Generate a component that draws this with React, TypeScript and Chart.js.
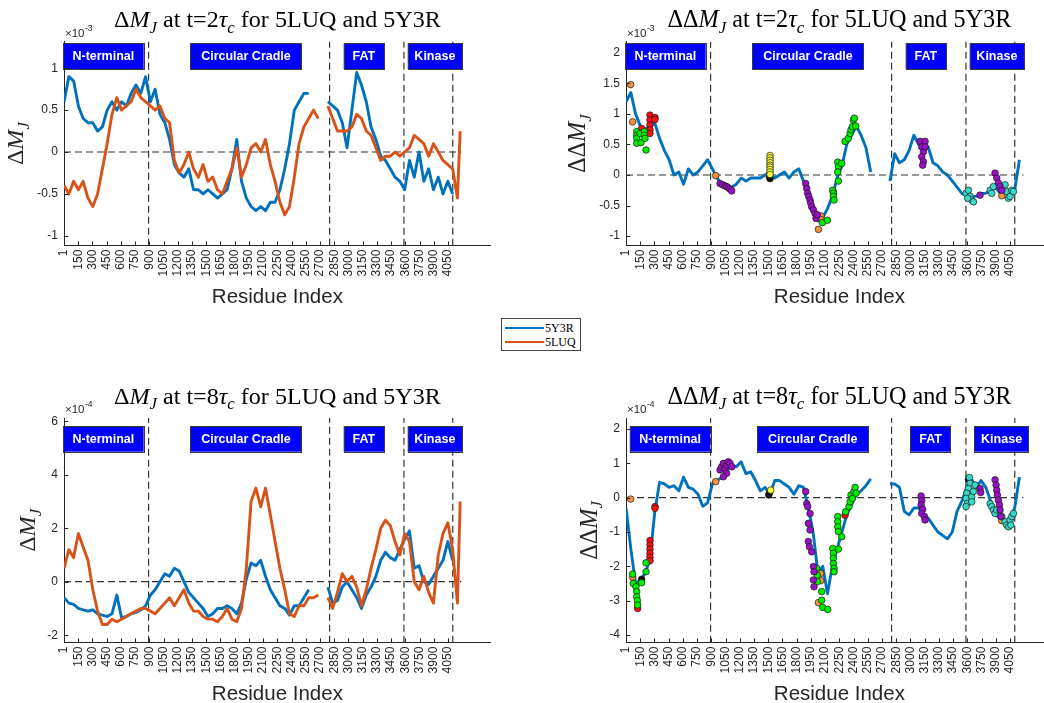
import React, { useEffect, useRef } from "react";
import { Chart, registerables } from "chart.js";

Chart.register(...registerables);

// ---------------- data ----------------
const residueIndex = [1, 51, 101, 152, 202, 253, 304, 354, 405, 455, 506, 557, 607, 658, 708, 759, 810, 860, 911, 961, 1012, 1063, 1113, 1164, 1214, 1265, 1316, 1366, 1417, 1467, 1518, 1569, 1619, 1670, 1720, 1771, 1822, 1872, 1923, 1973, 2024, 2075, 2125, 2176, 2226, 2277, 2328, 2378, 2429, 2479, 2530, 2581, 2631, 2682, 2732, 2783, 2834, 2884, 2935, 2985, 3036, 3087, 3137, 3188, 3238, 3289, 3340, 3390, 3441, 3491, 3542, 3593, 3643, 3694, 3744, 3795, 3846, 3896, 3947, 3997, 4048, 4099, 4149, 4178];

// ΔM_J at t=2τc (×1e-3)
const dMJ2_5Y3R = [0.6, 0.9, 0.85, 0.55, 0.4, 0.35, 0.35, 0.25, 0.3, 0.5,
  0.6, 0.5, 0.6, 0.55, 0.7, 0.8, 0.7, 0.9, 0.6, 0.75,
  0.45, 0.35, 0.15, -0.15, -0.25, -0.3, -0.2, -0.45, -0.45, -0.5,
  -0.45, -0.5, -0.55, -0.5, -0.45, -0.2, 0.15, -0.35, -0.55, -0.65,
  -0.7, -0.65, -0.7, -0.6, -0.6, -0.45, -0.2, 0.1, 0.5, 0.6,
  0.7, 0.7, null, null, null, 0.6, 0.55, 0.5, 0.35, 0.05,
  0.5, 0.95, 0.8, 0.6, 0.3, 0.15, -0.05, -0.1, -0.2, -0.3,
  -0.35, -0.45, -0.1, -0.3, 0.0, -0.35, -0.2, -0.45, -0.3, -0.5,
  -0.35, -0.5, null, null];
const dMJ2_5LUQ = [-0.4, -0.5, -0.35, -0.45, -0.35, -0.55, -0.65, -0.5, -0.2, 0.1,
  0.45, 0.65, 0.5, 0.55, 0.6, 0.75, 0.65, 0.6, 0.55, 0.5,
  0.55, 0.4, 0.35, -0.1, -0.25, -0.15, 0.0, -0.2, -0.3, -0.15,
  -0.35, -0.3, -0.45, -0.5, -0.35, -0.2, 0.05, -0.3, -0.15, 0.05,
  0.1, 0.0, 0.15, -0.15, -0.35, -0.6, -0.75, -0.65, -0.3, 0.1,
  0.3, 0.4, 0.5, 0.4, null, 0.55, 0.4, 0.25, 0.25, 0.25,
  0.3, 0.45, 0.4, 0.25, 0.2, 0.05, -0.1, -0.05, -0.05, 0.0,
  -0.05, 0.0, 0.05, 0.2, 0.15, 0.1, -0.05, 0.1, 0.0, -0.1,
  -0.15, -0.2, -0.55, 0.25];
// ΔΔM_J at t=2τc (×1e-3)
const ddMJ2 = [1.2, 1.35, 1.0, 0.8, 0.75, 0.8, 0.85, 0.6, 0.4, 0.25,
  0.0, 0.05, -0.15, 0.1, 0.0, 0.05, 0.15, 0.25, 0.1, -0.05,
  -0.15, -0.2, -0.2, -0.15, -0.05, -0.1, -0.05, -0.05, -0.05, 0.0,
  0.05, -0.05, 0.0, 0.05, -0.05, 0.05, 0.1, -0.1, -0.3, -0.55,
  -0.75, -0.7, -0.55, -0.35, -0.05, 0.15, 0.5, 0.65, 0.8, 0.65,
  0.45, 0.05, null, null, null, -0.1, 0.35, 0.2, 0.25, 0.4,
  0.65, 0.5, 0.55, 0.45, 0.2, 0.15, 0.05, 0.0, -0.1, -0.2,
  -0.3, -0.35, -0.35, -0.35, -0.3, -0.3, -0.25, -0.2, -0.3, -0.3,
  -0.25, -0.25, 0.25, null];
// ΔM_J at t=8τc (×1e-4)
const dMJ8_5Y3R = [-0.6, -0.8, -0.85, -1.0, -1.05, -1.1, -1.05, -1.2, -1.25, -1.3,
  -1.2, -0.5, -1.35, -1.3, -1.2, -1.15, -1.05, -0.9, -0.5, -0.3,
  0.0, 0.3, 0.2, 0.5, 0.4, 0.0, -0.4, -0.6, -0.8, -1.0,
  -1.3, -1.2, -1.0, -1.0, -0.9, -1.0, -1.2, -0.8, 0.1, 0.7,
  0.6, 0.8, 0.2, -0.3, -0.6, -0.9, -1.0, -1.25, -0.9, -0.9,
  -0.6, -0.3, null, null, null, -0.2, -0.8, -0.7, -0.2, 0.0,
  -0.3, -0.6, -1.0, -0.5, -0.2, 0.2, 0.8, 1.1, 0.9, 0.8,
  1.2, 1.6, 1.9, 0.5, 0.6, 0.0, -0.1, 0.2, 0.5, 0.8,
  1.5, 0.8, null, null];
const dMJ8_5LUQ = [0.5, 1.2, 0.9, 1.8, 1.3, 0.8, -0.3, -1.1, -1.6, -1.6,
  -1.4, -1.5, -1.4, -1.3, -1.2, -1.1, -1.0, -1.0, -1.1, -1.2,
  -1.0, -0.8, -0.6, -0.9, -0.6, -0.3, -0.8, -1.1, -1.1, -1.3,
  -1.4, -1.4, -1.5, -1.3, -1.0, -1.4, -1.5, -1.0, 0.5, 3.0,
  3.5, 2.8, 3.5, 2.5, 1.5, 0.5, -0.3, -1.2, -1.3, -0.9,
  -0.9, -0.6, -0.6, -0.5, null, -0.6, -1.0, -0.4, 0.3, 0.0,
  0.2, -0.2, -0.9, -0.3, 0.5, 1.2, 2.0, 2.3, 2.1, 1.5,
  1.0, 1.8, 1.5, 0.0, -0.3, 0.2, -0.4, -0.8, 1.0, 1.8,
  2.2, 1.2, -0.8, 3.0];
// ΔΔM_J at t=8τc (×1e-4)
const ddMJ8 = [-0.3, -1.5, -2.5, -2.4, -2.2, -1.8, -0.4, 0.45, 0.4, 0.3,
  0.35, 0.2, 0.6, 0.3, 0.25, 0.1, -0.25, -0.15, 0.4, 0.5,
  0.6, 0.8, 0.95, 0.9, 1.05, 0.7, 0.75, 0.5, 0.2, 0.3,
  0.1, 0.5, 0.5, 0.4, 0.3, 0.1, 0.35, 0.3, -0.3, -1.0,
  -2.2, -2.0, -2.8, -2.0, -1.5, -1.0, -0.5, -0.2, 0.1, 0.2,
  0.35, 0.55, null, null, null, 0.4, 0.4, 0.3, -0.4, -0.5,
  -0.3, -0.3, -0.5, -0.6, -0.8, -1.0, -1.1, -1.2, -1.0, -0.4,
  -0.1, 0.3, 0.55, 0.3, 0.5, 0.3, -0.1, -0.5, -0.6, -0.7,
  -0.6, -0.3, 0.6, null];

// highlighted residues [residue, value]
const t2Orange = [[49, 1.48], [70, 0.87], [946, -0.01], [2029, -0.89], [2057, -0.67], [2057, -0.73], [3963, -0.34]];
const t2Green = [[113, 0.71], [113, 0.65], [113, 0.6], [113, 0.52], [148, 0.68], [158, 0.53], [193, 0.71], [193, 0.65], [200, 0.6], [211, 0.41], [2071, -0.78], [2124, -0.74], [2180, -0.25], [2187, -0.3], [2187, -0.35], [2194, -0.41], [2233, 0.21], [2240, 0.14], [2233, 0.05], [2240, -0.1], [2275, 0.19], [2310, 0.55], [2345, 0.6], [2363, 0.68], [2373, 0.74], [2387, 0.79], [2398, 0.9], [2408, 0.93], [2423, 0.8]];
const t2Red = [[165, 0.76], [253, 0.98], [253, 0.9], [253, 0.82], [253, 0.74], [253, 0.68], [306, 0.94], [306, 0.91]];
const t2Purple = [[992, -0.14], [1020, -0.16], [1044, -0.18], [1062, -0.19], [1079, -0.21], [1097, -0.23], [1115, -0.26], [1895, -0.14], [1906, -0.22], [1916, -0.3], [1927, -0.35], [1941, -0.41], [1948, -0.46], [1958, -0.52], [1976, -0.57], [1994, -0.63], [2004, -0.71], [2018, -0.65], [3101, 0.55], [3119, 0.46], [3136, 0.38], [3119, 0.3], [3136, 0.22], [3129, 0.16], [3154, 0.55], [3154, 0.46], [3734, -0.33], [3892, 0.03], [3910, -0.05], [3927, -0.13], [3945, -0.19], [3963, -0.25]];
const t2Yellow = [[1519, 0.32], [1519, 0.28], [1519, 0.24], [1519, 0.2], [1519, 0.16], [1519, 0.13], [1519, 0.09], [1519, 0.05], [1519, 0.01]];
const t2Black = [[1512, -0.03], [1519, -0.06], [2187, -0.28]];
const t2Cyan = [[3586, -0.3], [3611, -0.25], [3629, -0.35], [3646, -0.41], [3664, -0.44], [3604, -0.38], [3840, -0.25], [3857, -0.3], [3875, -0.19], [3998, -0.16], [4015, -0.27], [4033, -0.38], [4051, -0.35], [4068, -0.25], [4086, -0.27]];

const t8Orange = [[49, -0.04], [70, -2.32], [946, 0.47], [2053, -2.21], [2053, -2.42], [2029, -3.06], [3963, -0.67]];
const t8Green = [[70, -2.23], [77, -2.5], [105, -2.6], [113, -2.74], [113, -2.89], [120, -3.0], [123, -3.13], [165, -2.48], [211, -1.9], [211, -2.16], [2011, -2.06], [2018, -2.26], [2018, -2.45], [2064, -2.74], [2064, -2.99], [2074, -3.2], [2127, -3.26], [2180, -1.48], [2187, -1.62], [2187, -1.77], [2187, -1.92], [2194, -2.06], [2194, -2.16], [2240, -1.5], [2233, -0.55], [2233, -0.7], [2233, -0.85], [2240, -0.99], [2275, -1.14], [2317, -0.41], [2352, -0.26], [2363, -0.12], [2373, 0.08], [2387, -0.02], [2405, 0.18], [2416, 0.3], [2426, 0.13]];
const t8Red = [[123, -3.23], [253, -1.25], [253, -1.38], [253, -1.5], [253, -1.62], [253, -1.74], [253, -1.84], [306, -0.26], [306, -0.31], [2310, -0.51]];
const t8Black = [[165, -2.38], [1505, 0.08], [1512, 0.13], [3611, 0.53]];
const t8Yellow = [[1526, 0.22]];
const t8Purple = [[992, 0.81], [1009, 0.9], [1027, 1.0], [1044, 0.86], [1062, 0.95], [1079, 1.05], [1097, 1.0], [1062, 0.71], [1027, 0.61], [1115, 0.9], [1895, 0.18], [1906, -0.17], [1916, -0.26], [1941, -0.46], [1923, -0.75], [1941, -0.94], [1923, -1.28], [1934, -1.43], [1958, -1.58], [1976, -2.01], [1983, -2.16], [1976, -2.4], [1983, -2.6], [3112, 0.05], [3119, -0.09], [3112, -0.21], [3129, -0.34], [3119, -0.46], [3147, -0.55], [3154, -0.65], [3734, 0.27], [3741, 0.15], [3892, 0.52], [3903, 0.37], [3910, 0.22], [3917, 0.08], [3927, -0.07], [3938, -0.21], [3945, -0.36], [3952, -0.55]];
const t8Cyan = [[3622, 0.59], [3629, 0.42], [3611, 0.27], [3593, 0.13], [3586, -0.02], [3600, -0.17], [3586, -0.26], [3646, 0.03], [3664, 0.18], [3682, 0.37], [3646, -0.12], [3840, -0.17], [3857, -0.26], [3875, -0.36], [3892, -0.46], [3910, -0.36], [3963, -0.55], [3998, -0.7], [4015, -0.8], [4033, -0.85], [4051, -0.65], [4058, -0.8], [4068, -0.55], [4086, -0.46]];

const xTickValues = [1, 150, 300, 450, 600, 750, 900, 1050, 1200, 1350, 1500, 1650, 1800, 1950, 2100, 2250, 2400, 2550, 2700, 2850, 3000, 3150, 3300, 3450, 3600, 3750, 3900, 4050];
const domainBounds = [892, 2801, 3585, 4100];
const domainNames = ["N-terminal", "Circular Cradle", "FAT", "Kinase"];
const domainSpans = [[-10, 840], [1333, 2505], [2950, 3375], [3625, 4197]];
const seriesNames = ["5Y3R", "5LUQ"];

const yTicks2 = [-1, -0.5, 0, 0.5, 1];
const yTicks2dd = [-1, -0.5, 0, 0.5, 1, 1.5, 2];
const yTicks8 = [-2, 0, 2, 4, 6];
const yTicks8dd = [-4, -3, -2, -1, 0, 1, 2];

// ---------------- styling ----------------
const BLUE = "#0072BD";
const ORANGE = "#D95319";
const AX = "#262626";
const SANS = "'Liberation Sans', Arial, Helvetica, sans-serif";
const SERIF = "'Liberation Serif', 'Times New Roman', serif";
const COLORS = {
  orange: "#F5923A", green: "#00F000", red: "#FF1010", purple: "#9A10C8",
  yellow: "#FFFF30", black: "#111111", cyan: "#38D8C8",
};

type Seg = { t: string; it?: boolean; sub?: boolean };

function segFont(s: Seg, size: number) {
  return `${s.it ? "italic " : ""}${s.sub ? (size * 0.7).toFixed(2) : size.toFixed(2)}px ${SERIF}`;
}
function richWidth(ctx: CanvasRenderingContext2D, segs: Seg[], size: number) {
  let w = 0;
  segs.forEach((s) => { ctx.font = segFont(s, size); w += ctx.measureText(s.t).width; });
  return w;
}
function drawRich(ctx: CanvasRenderingContext2D, segs: Seg[], x: number, y: number, size: number) {
  const total = richWidth(ctx, segs, size);
  let cx = x - total / 2;
  segs.forEach((s) => {
    ctx.font = segFont(s, size);
    ctx.fillText(s.t, cx, y + (s.sub ? size * 0.24 : 0));
    cx += ctx.measureText(s.t).width;
  });
}

function titleSegs(dd: boolean, t: string): Seg[] {
  return [
    { t: dd ? "ΔΔ" : "Δ" }, { t: "M", it: true }, { t: "J", it: true, sub: true },
    { t: ` at t=${t}` }, { t: "τ", it: true }, { t: "c", it: true, sub: true },
    { t: " for 5LUQ and 5Y3R" },
  ];
}
function ylabSegs(dd: boolean): Seg[] {
  return [{ t: dd ? "ΔΔ" : "Δ" }, { t: "M", it: true }, { t: "J", it: true, sub: true }];
}

type PanelSpec = {
  cx: number; cy: number; cw: number; ch: number;
  area: { left: number; top: number; right: number; bottom: number };
  yMin: number; yMax: number; yTicks: number[]; exponent: string;
  dd: boolean; t: string; titleWidth: number; ylabOffset: number;
  lines: { label: string; values: (number | null)[]; color: string; order: number }[];
  scatter: { color: string; points: number[][] }[];
  boxShift: number; boxOffset: number;
};

function fmt(v: number) {
  return String(v);
}

function buildConfig(p: PanelSpec): any {
  const a = p.area;
  const datasets: any[] = [];
  p.scatter.forEach((g) => datasets.push({
    type: "line", data: g.points.map(([x, y]) => ({ x, y })), showLine: false,
    pointRadius: 3.3, pointBackgroundColor: g.color, pointBorderColor: "#1a1a1a",
    pointBorderWidth: 0.7, order: 0,
  }));
  p.lines.forEach((s) => datasets.push({
    type: "line", label: s.label, data: residueIndex.map((r, i) => ({ x: r, y: s.values[i] })),
    borderColor: s.color, borderWidth: 2.9, pointRadius: 0, spanGaps: false, tension: 0,
    borderJoinStyle: "round", order: s.order,
  }));
  domainBounds.forEach((b) => datasets.push({
    type: "line", data: [{ x: b, y: p.yMin }, { x: b, y: p.yMax }], borderColor: "#333333",
    borderWidth: 1.2, borderDash: [7, 4], pointRadius: 0, order: 5,
  }));
  datasets.push({
    type: "line", data: [{ x: 0, y: 0 }, { x: 4190, y: 0 }], borderColor: "#333333",
    borderWidth: 1.2, borderDash: [7, 4], pointRadius: 0, order: 5,
  });

  const decor = {
    id: "decor",
    afterDatasetsDraw(chart: any) {
      const ctx = chart.ctx as CanvasRenderingContext2D;
      const xs = chart.scales.x;
      const top = a.top - p.cy + p.boxOffset;
      ctx.save();
      domainSpans.forEach((sp, i) => {
        const x1 = xs.getPixelForValue(sp[0] + p.boxShift);
        const x2 = xs.getPixelForValue(sp[1] + p.boxShift);
        const h = 25.7;
        ctx.fillStyle = "#0000FF";
        ctx.fillRect(x1, top, x2 - x1, h);
        ctx.strokeStyle = "#3a3a3a";
        ctx.lineWidth = 1;
        ctx.strokeRect(Math.round(x1) + 0.5, Math.round(top) + 0.5, Math.round(x2 - x1), Math.round(h));
        ctx.fillStyle = "#FFFFFF";
        ctx.font = `bold 12.5px ${SANS}`;
        ctx.textAlign = "center";
        ctx.textBaseline = "middle";
        ctx.fillText(domainNames[i], (x1 + x2) / 2, top + h / 2 + 0.5);
      });
      ctx.restore();
    },
    afterDraw(chart: any) {
      const ctx = chart.ctx as CanvasRenderingContext2D;
      const ca = chart.chartArea;
      const xs = chart.scales.x;
      const ys = chart.scales.y;
      ctx.save();
      // inward tick marks
      ctx.strokeStyle = AX;
      ctx.lineWidth = 1;
      ctx.beginPath();
      xTickValues.forEach((v) => {
        const px = Math.round(xs.getPixelForValue(v)) + 0.5;
        ctx.moveTo(px, ca.bottom);
        ctx.lineTo(px, ca.bottom - 4.3);
      });
      p.yTicks.forEach((v) => {
        const py = Math.round(ys.getPixelForValue(v)) + 0.5;
        ctx.moveTo(ca.left, py);
        ctx.lineTo(ca.left + 4.3, py);
      });
      ctx.stroke();

      // exponent
      ctx.fillStyle = AX;
      ctx.textAlign = "left";
      ctx.textBaseline = "alphabetic";
      ctx.font = `11.5px ${SANS}`;
      const ex = ca.left + 1;
      const ey = ca.top - 4.8;
      ctx.fillText("×10", ex, ey);
      const w10 = ctx.measureText("×10").width;
      ctx.font = `8.5px ${SANS}`;
      ctx.fillText(p.exponent, ex + w10 + 0.5, ey - 6);

      // title (size fitted to measured width)
      const segs = titleSegs(p.dd, p.t);
      const size = (20 * p.titleWidth) / richWidth(ctx, segs, 20);
      const midX = (ca.left + (a.right - p.cx)) / 2;
      ctx.fillStyle = "#000000";
      ctx.textAlign = "left";
      drawRich(ctx, segs, midX, ca.top - 14.5, size);

      // y label
      ctx.save();
      ctx.translate(ca.left - p.ylabOffset, (ca.top + ca.bottom) / 2);
      ctx.rotate(-Math.PI / 2);
      ctx.fillStyle = AX;
      drawRich(ctx, ylabSegs(p.dd), 0, 0, size);
      ctx.restore();

      // x label
      ctx.fillStyle = AX;
      ctx.font = `20.5px ${SANS}`;
      ctx.textAlign = "center";
      ctx.textBaseline = "middle";
      ctx.fillText("Residue Index", midX, ca.bottom + 51.5);
      ctx.restore();
    },
  };

  return {
    type: "line",
    data: { datasets },
    options: {
      animation: false,
      responsive: false,
      maintainAspectRatio: false,
      events: [],
      layout: { padding: { left: 0, top: a.top - p.cy, right: p.cx + p.cw - a.right, bottom: 0 } },
      plugins: { legend: { display: false }, tooltip: { enabled: false }, title: { display: false } },
      scales: {
        x: {
          type: "linear", position: "bottom", min: 0, max: 4500,
          afterFit: (s: any) => { s.height = p.cy + p.ch - a.bottom; },
          afterBuildTicks: (s: any) => { s.ticks = xTickValues.map((v) => ({ value: v })); },
          ticks: {
            autoSkip: false, minRotation: 90, maxRotation: 90, padding: 4, color: AX,
            font: { family: SANS, size: 12 }, callback: (v: number) => fmt(v),
          },
          grid: { display: false, drawTicks: false },
          border: { display: true, color: AX, width: 1 },
        },
        y: {
          type: "linear", position: "left", min: p.yMin, max: p.yMax,
          afterFit: (s: any) => { s.width = a.left - p.cx; },
          afterBuildTicks: (s: any) => { s.ticks = p.yTicks.map((v) => ({ value: v })); },
          ticks: { padding: 6, color: AX, font: { family: SANS, size: 12 }, callback: (v: number) => fmt(v) },
          grid: { display: false, drawTicks: false },
          border: { display: true, color: AX, width: 1 },
        },
      },
    },
    plugins: [decor],
  };
}

const panels: PanelSpec[] = [
  {
    cx: 0, cy: 0, cw: 520, ch: 320,
    area: { left: 64, top: 41.5, right: 490.7, bottom: 245.7 },
    yMin: -1.118, yMax: 1.319, yTicks: yTicks2, exponent: "-3",
    dd: false, t: "2", titleWidth: 327, ylabOffset: 41,
    lines: [
      { label: seriesNames[0], values: dMJ2_5Y3R, color: BLUE, order: 2 },
      { label: seriesNames[1], values: dMJ2_5LUQ, color: ORANGE, order: 1 },
    ],
    scatter: [], boxShift: 0, boxOffset: 1.8,
  },
  {
    cx: 540, cy: 0, cw: 520, ch: 320,
    area: { left: 626, top: 41.5, right: 1052.7, bottom: 245.7 },
    yMin: -1.157, yMax: 2.185, yTicks: yTicks2dd, exponent: "-3",
    dd: true, t: "2", titleWidth: 344, ylabOffset: 41,
    lines: [{ label: "ΔΔM_J", values: ddMJ2, color: BLUE, order: 2 }],
    scatter: [
      { color: COLORS.purple, points: t2Purple },
      { color: COLORS.cyan, points: t2Cyan },
      { color: COLORS.green, points: t2Green },
      { color: COLORS.red, points: t2Red },
      { color: COLORS.yellow, points: t2Yellow },
      { color: COLORS.black, points: t2Black },
      { color: COLORS.orange, points: t2Orange },
    ],
    boxShift: 0, boxOffset: 1.8,
  },
  {
    cx: 0, cy: 370, cw: 520, ch: 333,
    area: { left: 64, top: 418, right: 490.7, bottom: 642.7 },
    yMin: -2.28, yMax: 6.12, yTicks: yTicks8, exponent: "-4",
    dd: false, t: "8", titleWidth: 327, ylabOffset: 29,
    lines: [
      { label: seriesNames[0], values: dMJ8_5Y3R, color: BLUE, order: 2 },
      { label: seriesNames[1], values: dMJ8_5LUQ, color: ORANGE, order: 1 },
    ],
    scatter: [], boxShift: 0, boxOffset: 8,
  },
  {
    cx: 540, cy: 370, cw: 520, ch: 333,
    area: { left: 626, top: 418, right: 1052.7, bottom: 642.7 },
    yMin: -4.23, yMax: 2.325, yTicks: yTicks8dd, exponent: "-4",
    dd: true, t: "8", titleWidth: 344, ylabOffset: 29.5,
    lines: [{ label: "ΔΔM_J", values: ddMJ8, color: BLUE, order: 2 }],
    scatter: [
      { color: COLORS.purple, points: t8Purple },
      { color: COLORS.cyan, points: t8Cyan },
      { color: COLORS.green, points: t8Green },
      { color: COLORS.red, points: t8Red },
      { color: COLORS.yellow, points: t8Yellow },
      { color: COLORS.black, points: t8Black },
      { color: COLORS.orange, points: t8Orange },
    ],
    boxShift: 50, boxOffset: 8,
  },
];

function Panel({ spec }: { spec: PanelSpec }) {
  const ref = useRef<HTMLCanvasElement>(null);
  useEffect(() => {
    if (!ref.current) return;
    const chart = new Chart(ref.current, buildConfig(spec));
    return () => chart.destroy();
  }, [spec]);
  return (
    <canvas
      ref={ref}
      width={spec.cw}
      height={spec.ch}
      style={{ position: "absolute", left: spec.cx, top: spec.cy, width: spec.cw, height: spec.ch }}
    />
  );
}

function Legend() {
  const item = (color: string, text: string, top: number) => (
    <div style={{ position: "absolute", left: 0, top, width: 80, height: 14 }}>
      <div style={{ position: "absolute", left: 3, top: 6, width: 39, height: 2.2, background: color }} />
      <div style={{ position: "absolute", left: 43, top: 0, fontFamily: SERIF, fontSize: 12, lineHeight: "14px", color: "#000" }}>{text}</div>
    </div>
  );
  return (
    <div style={{ position: "absolute", left: 501, top: 318, width: 80, height: 33, border: "1px solid #444", background: "#fff", boxSizing: "border-box" }}>
      {item(BLUE, seriesNames[0], 1.5)}
      {item(ORANGE, seriesNames[1], 16)}
    </div>
  );
}

export default function App() {
  return (
    <div style={{ position: "fixed", left: 0, top: 0, width: 1044, height: 703, overflow: "hidden", background: "#ffffff" }}>
      {panels.map((p, i) => <Panel key={i} spec={p} />)}
      <Legend />
    </div>
  );
}
